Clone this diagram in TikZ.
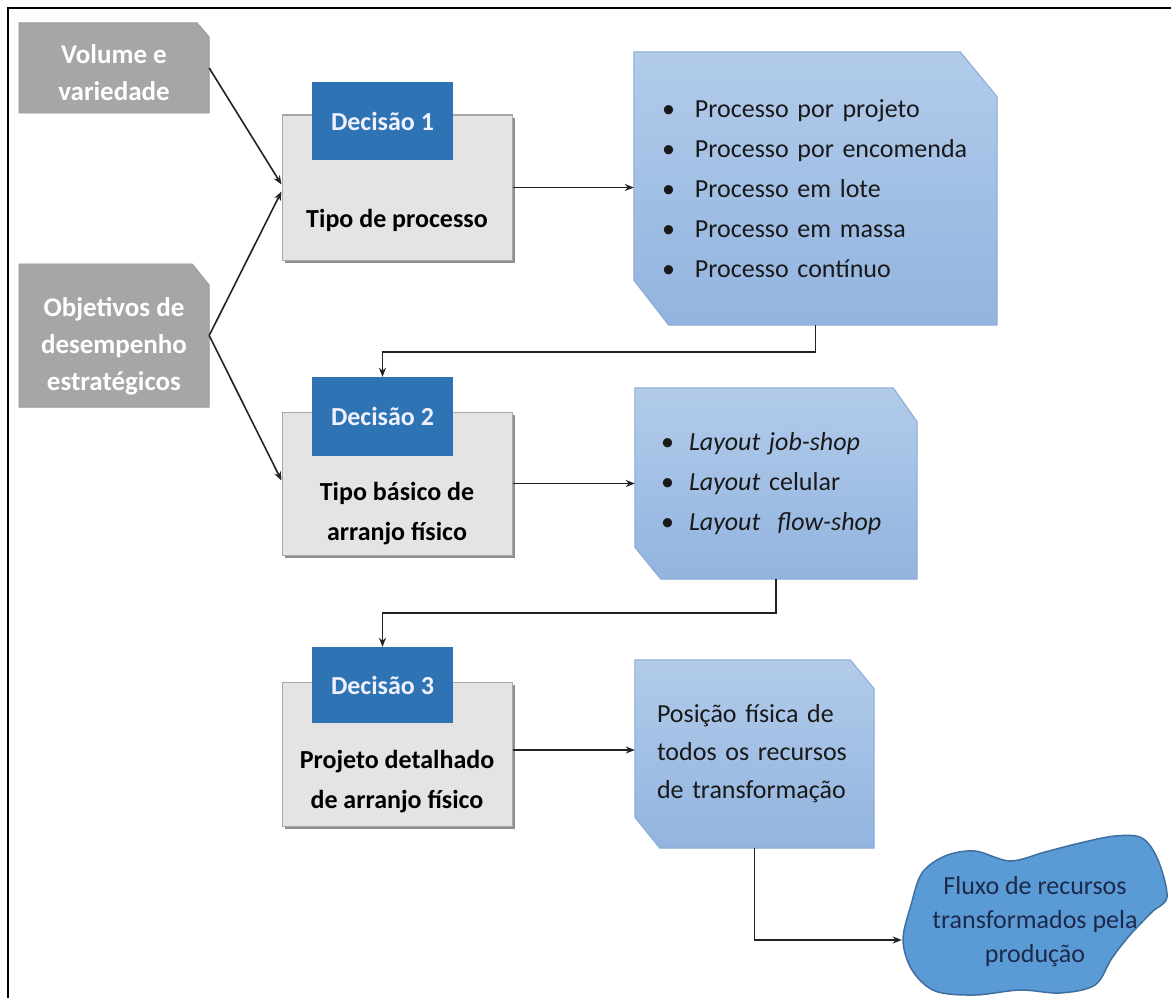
\documentclass[tikz,border=0pt]{standalone}
\usepackage{fontspec}
\setmainfont{Carlito}
\usetikzlibrary{arrows.meta,backgrounds,calc,shadows}

\definecolor{inputgray}{HTML}{A6A6A6}
\definecolor{decblue}{HTML}{2E74B5}
\definecolor{boxgray}{HTML}{E4E4E4}
\definecolor{boxedge}{HTML}{A8A8A8}
\definecolor{listtop}{HTML}{B2CBEA}
\definecolor{listbot}{HTML}{92B4DF}
\definecolor{listedge}{HTML}{8AA9D6}
\definecolor{cloudfill}{HTML}{5B9BD5}
\definecolor{cloudedge}{HTML}{3F6F9E}
\definecolor{navytext}{HTML}{1B2A4A}
\definecolor{linegray}{HTML}{222222}

% chamfered outline around a node: options, node, NE cut (x,y), SW cut (x,y)
\newcommand\chamfbox[6]{%
  \path[#1] (#2.north west) -- ([xshift=-#3pt]#2.north east)
    -- ([yshift=-#4pt]#2.north east) -- (#2.south east)
    -- ([xshift=#5pt]#2.south west) -- ([yshift=#6pt]#2.south west) -- cycle;}

\tikzset{
  bigtext/.style={font=\fontsize{26pt}{40pt}\selectfont},
  inputbox/.style={minimum width=190pt, inner sep=0pt},
  inputtext/.style={inner sep=0pt, align=center, text=white,
    font=\bfseries\fontsize{27pt}{37pt}\selectfont},
  decbox/.style={minimum width=230pt, inner sep=0pt, fill=boxgray, draw=boxedge, line width=1pt,
    drop shadow={shadow xshift=3pt, shadow yshift=-3pt, fill=black!55, opacity=0.8}},
  declabel/.style={minimum width=141pt, inner sep=0pt, fill=decblue, text=white!94!blue,
    font=\bfseries\fontsize{26pt}{32pt}\selectfont},
  dectext/.style={align=center, inner sep=0pt, font=\bfseries\fontsize{26pt}{40pt}\selectfont},
  listbox/.style={inner ysep=0pt, align=left, text=black!90, bigtext},
  conn/.style={draw=linegray, line width=1.6pt, -{Stealth[length=9pt,width=7pt]}},
  elbow/.style={conn}
}

\begin{document}
\begin{tikzpicture}[x=1pt,y=-1pt]
\useasboundingbox (0,0) rectangle (1171,998);

% page frame (left and top edges)
\draw[line width=2.6pt] (8,998) -- (8,8) -- (1171,8);

% inputs
\node[inputbox, minimum height=90pt] (vol) at (114,68) {};
\node[inputtext] (voltxt) at (114,73) {Volume e\\variedade};
\node[inputbox, minimum height=143pt] (obj) at (114,335.5) {};
\node[inputtext] (objtxt) at (114,346) {Objetivos de\\desempenho\\estratégicos};

% decisions
\node[decbox, minimum height=145pt] (d1) at (397,187.5) {};
\node[declabel, minimum height=78pt] (d1lab) at (382.5,121) {Decisão 1};
\node[dectext] (d1txt) at (397,220) {Tipo de processo};

\node[decbox, minimum height=143pt] (d2) at (397,483.5) {};
\node[declabel, minimum height=79pt] (d2lab) at (382.5,416.5) {Decisão 2};
\node[dectext] (d2txt) at (397,514) {Tipo básico de\\arranjo físico};

\node[decbox, minimum height=144pt] (d3) at (397,754) {};
\node[declabel, minimum height=76pt] (d3lab) at (382.5,685) {Decisão 3};
\node[dectext] (d3txt) at (397,782) {Projeto detalhado\\de arranjo físico};

% outcome boxes
\node[listbox, minimum width=363pt, minimum height=273pt, text width=307pt, inner xsep=28pt]
  (list1) at (815.5,188.5) {%
  \makebox[33pt][l]{•}Processo por projeto\\
  \makebox[33pt][l]{•}Processo por encomenda\\
  \makebox[33pt][l]{•}Processo em lote\\
  \makebox[33pt][l]{•}Processo em massa\\
  \makebox[33pt][l]{•}Processo contínuo};

\node[listbox, minimum width=282pt, minimum height=191pt, text width=230pt, inner xsep=26pt]
  (list2) at (776,483.5) {%
  \makebox[28pt][l]{•}\textit{Layout job-shop}\\
  \makebox[28pt][l]{•}\textit{Layout} celular\\
  \makebox[28pt][l]{•}\textit{Layout\ \ flow-shop}};

\node[listbox, minimum width=239pt, minimum height=188pt, text width=195pt, inner xsep=22pt,
  font=\fontsize{26pt}{38pt}\selectfont]
  (box3) at (754.5,754) {%
  \makebox[193pt][s]{Posição física de}\\
  \makebox[193pt][s]{todos os recursos}\\
  de transformação};

\node[align=center, inner sep=0pt, minimum width=266pt, text=navytext,
  font=\fontsize{26pt}{34pt}\selectfont]
  (flux) at (1035,922) {Fluxo de recursos\\transformados pela\\produção};

% shapes behind the texts
\begin{pgfonlayer}{background}
  \chamfbox{fill=inputgray, draw=inputgray!90!black, line width=0.6pt}{vol}{12}{14}{0}{0}
  \chamfbox{fill=inputgray, draw=inputgray!90!black, line width=0.6pt}{obj}{17}{21}{0}{0}
  \chamfbox{top color=listtop, bottom color=listbot, draw=listedge, line width=1pt}{list1}{37}{45}{35}{45}
  \chamfbox{top color=listtop, bottom color=listbot, draw=listedge, line width=1pt}{list2}{24}{34}{26}{32}
  \chamfbox{top color=listtop, bottom color=listbot, draw=listedge, line width=1pt}{box3}{24}{29}{25}{31}
  \draw[fill=cloudfill, draw=cloudedge, line width=1.5pt]
    plot[smooth cycle, tension=0.55] coordinates {
      (903,940) (911,905) (922,873) (945,856) (975,851) (1010,861) (1045,852)
      (1080,843) (1115,836) (1142,838) (1158,860) (1167,897) (1152,912)
      (1130,935) (1112,958) (1095,985) (1060,993) (1020,990) (975,995)
      (935,991) (912,970)};
\end{pgfonlayer}

% connectors
\draw[conn] (vol.east) -- ([yshift=3pt]d1.west);
\draw[conn] (obj.east) -- ([yshift=-4pt]d1.west);
\draw[conn] (obj.east) -- ([yshift=3pt]d2.west);
\draw[conn] (d1.east) -- (d1.east -| list1.west);
\draw[elbow] (list1.south) -- ++(0,27) -| (d2lab.north);
\draw[conn] (d2.east) -- (d2.east -| list2.west);
\draw[elbow] (list2.south) -- ++(0,34) -| (d3lab.north);
\draw[conn] ([yshift=4pt]d3.east) -- ([yshift=4pt]d3.east -| box3.west);
\draw[elbow] (box3.south) |- ([yshift=-18pt]flux.west);
\end{tikzpicture}
\end{document}
